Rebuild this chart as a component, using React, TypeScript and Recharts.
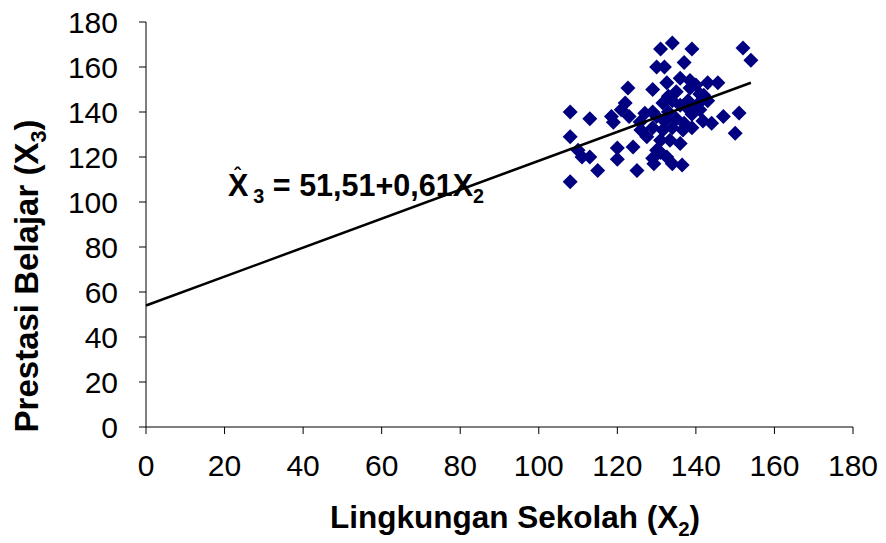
import { ScatterChart, Scatter, XAxis, YAxis } from 'recharts';

// Lingkungan Sekolah (X2)
const X2 = [
  108, 108, 108, 110, 111, 113, 113, 115, 118.5, 119, 120, 120, 121, 122, 122.7, 123, 124, 125,
  125.8, 127, 127.5, 129, 129, 129.3, 129, 130, 131, 132, 132.6, 134, 131.6, 134, 131.6, 134,
  136.7, 139, 131, 133.4, 136, 130, 131, 132.6, 134, 136.5, 136, 137, 138.5, 139, 138.5, 137.7,
  140, 141, 140.8, 142, 143, 145.6, 141.8, 144, 147, 150, 151, 152, 154,
  130, 133, 135, 137, 139, 141, 143, 135, 133, 138, 140, 132, 136, 129, 126,
];
// Prestasi Belajar (X3)
const X3 = [
  140, 129, 109, 123, 120, 120, 137, 114, 138, 135.5, 119, 124, 141, 144, 150.7, 138, 124.5, 114,
  135.6, 139.5, 129, 133, 119.5, 117, 150, 160, 168, 160, 153, 170.7, 144, 145, 132, 133,
  132, 133, 127.5, 127.5, 126, 123, 122, 120, 117, 116.5, 155, 162, 154, 168, 150.7, 142,
  142, 148, 144, 147.5, 153, 153, 136, 135, 138, 130.6, 139.6, 168.4, 163,
  138, 140, 137, 135, 139, 141, 145, 149, 147, 145, 152, 136, 143, 140, 132,
];

// trend line end points as drawn
const TREND_X = [0, 154];
const TREND_Y = [54, 153];

const TICKS = [0, 20, 40, 60, 80, 100, 120, 140, 160, 180];

const points = X2.map((x, i) => ({ x, y: X3[i] }));
const trend = TREND_X.map((x, i) => ({ x, y: TREND_Y[i] }));

const FONT = '"Liberation Sans", Arial, sans-serif';

const Diamond = (props: any) => {
  const { cx, cy } = props;
  const r = 7.5;
  return (
    <polygon
      points={`${cx},${cy - r} ${cx + r},${cy} ${cx},${cy + r} ${cx - r},${cy}`}
      fill="#000080"
    />
  );
};

export default function App() {
  return (
    <div style={{ position: 'relative', width: 886, height: 543, background: '#fff', fontFamily: FONT }}>
      <style>{'body{margin:0}'}</style>
      <ScatterChart width={886} height={543} margin={{ top: 22, right: 33, bottom: 56, left: 0 }}>
        <XAxis
          type="number"
          dataKey="x"
          domain={[0, 180]}
          ticks={TICKS}
          interval={0}
          stroke="#000"
          tickSize={7}
          tickMargin={21}
          height={60}
          tick={{ fill: '#000', fontSize: 30, fontFamily: FONT }}
        />
        <YAxis
          type="number"
          dataKey="y"
          domain={[0, 180]}
          ticks={TICKS}
          interval={0}
          stroke="#000"
          tickSize={7}
          tickMargin={21}
          width={146}
          tick={{ fill: '#000', fontSize: 30, fontFamily: FONT }}
        />
        <Scatter data={points} shape={Diamond} isAnimationActive={false} />
        <Scatter
          data={trend}
          line={{ stroke: '#000', strokeWidth: 2.5 }}
          shape={() => <g />}
          isAnimationActive={false}
        />
      </ScatterChart>

      <div
        style={{
          position: 'absolute',
          left: 30,
          top: 276,
          transform: 'translate(-50%, -50%) rotate(-90deg)',
          whiteSpace: 'nowrap',
          fontWeight: 'bold',
          fontSize: 33,
        }}
      >
        Prestasi Belajar (X<sub style={{ fontSize: '0.65em' }}>3</sub>)
      </div>

      <div
        style={{
          position: 'absolute',
          left: 515,
          top: 520,
          transform: 'translate(-50%, -50%)',
          whiteSpace: 'nowrap',
          fontWeight: 'bold',
          fontSize: 31.5,
        }}
      >
        Lingkungan Sekolah (X<sub style={{ fontSize: '0.65em' }}>2</sub>)
      </div>

      <div
        style={{
          position: 'absolute',
          left: 228,
          top: 168,
          whiteSpace: 'nowrap',
          fontWeight: 'bold',
          fontSize: 30.5,
          lineHeight: '34px',
        }}
      >
        <span style={{ position: 'relative' }}>
          X
          <span style={{ position: 'absolute', left: 6, top: -3, fontSize: 20, lineHeight: '20px' }}>ˆ</span>
        </span>
        <sub style={{ fontSize: '0.65em', marginLeft: 5 }}>3</sub> = 51,51+0,61X
        <sub style={{ fontSize: '0.65em' }}>2</sub>
      </div>
    </div>
  );
}
